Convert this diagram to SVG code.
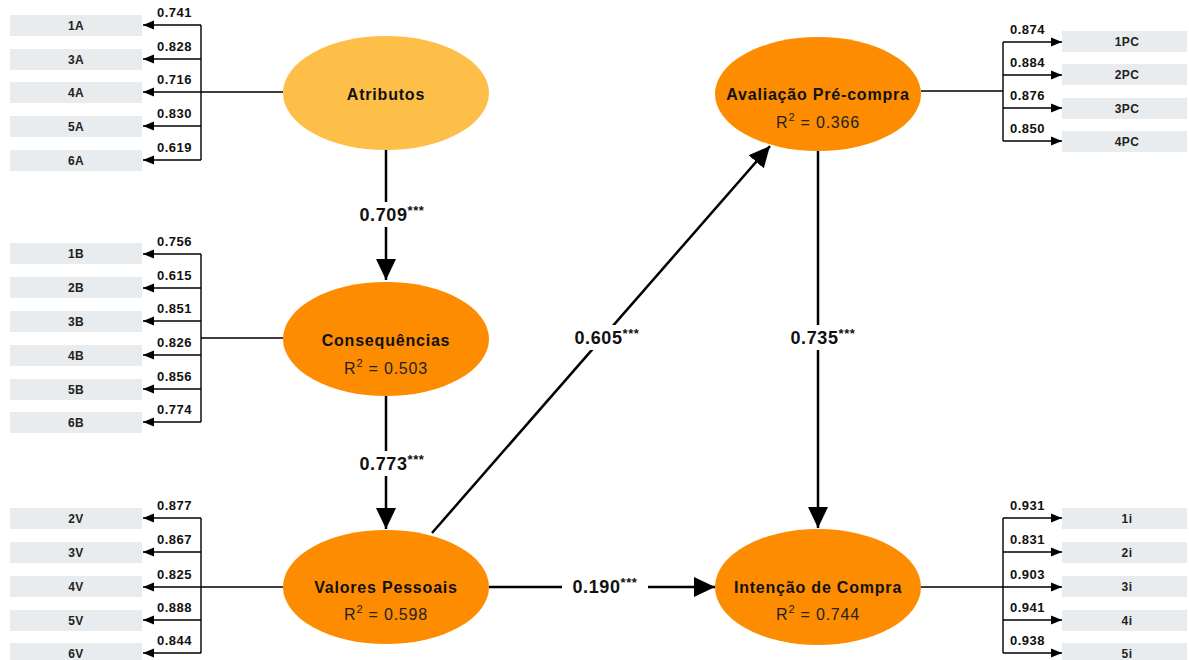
<svg xmlns="http://www.w3.org/2000/svg" width="1189" height="660" viewBox="0 0 1189 660">
<defs>
<marker id="big" markerUnits="userSpaceOnUse" markerWidth="22" markerHeight="22" viewBox="0 0 22 22" refX="21" refY="11" orient="auto"><path d="M0,1 L21,11 L0,21 Z" fill="#000"/></marker>
<marker id="small" markerUnits="userSpaceOnUse" markerWidth="11" markerHeight="10" viewBox="0 0 11 10" refX="11" refY="5" orient="auto"><path d="M0,0.5 L11,5 L0,9.5 Z" fill="#000"/></marker>
</defs>
<style>
.ind{fill:#E9ECEF}
.it{font-family:"Liberation Sans",Arial,sans-serif;font-size:12px;letter-spacing:0.4px;font-weight:bold;fill:#222;text-anchor:middle}
.ld{font-family:"Liberation Sans",Arial,sans-serif;font-size:13px;letter-spacing:0.5px;font-weight:bold;fill:#111}
.il{stroke:#000;stroke-width:1.4;fill:none}
.ia{stroke:#000;stroke-width:1.4;fill:none;marker-end:url(#small)}
.pa{stroke:#000;stroke-width:2.5;fill:none;marker-end:url(#big)}
.pt{font-family:"Liberation Sans",Arial,sans-serif;font-size:18px;letter-spacing:0.6px;font-weight:bold;fill:#111;text-anchor:middle}
.st{font-size:13px}
.lt{font-family:"Liberation Sans",Arial,sans-serif;font-size:16px;letter-spacing:0.8px;font-weight:bold;fill:#111;text-anchor:middle}
.rt{font-family:"Liberation Sans",Arial,sans-serif;font-size:16px;letter-spacing:0.8px;fill:#222;text-anchor:middle}
.o1{fill:#FDBF48}
.o2{fill:#FD8C00}
</style>

<g id="connectors">
  <path class="il" d="M283,92 H201 M201,25 V160"/>
  <line class="ia" x1="201" y1="25" x2="143" y2="25"/>
  <line class="ia" x1="201" y1="59" x2="143" y2="59"/>
  <line class="ia" x1="201" y1="92" x2="143" y2="92"/>
  <line class="ia" x1="201" y1="126" x2="143" y2="126"/>
  <line class="ia" x1="201" y1="160" x2="143" y2="160"/>
  <text class="ld" x="157" y="17">0.741</text>
  <text class="ld" x="157" y="51">0.828</text>
  <text class="ld" x="157" y="84">0.716</text>
  <text class="ld" x="157" y="118">0.830</text>
  <text class="ld" x="157" y="152">0.619</text>

  <path class="il" d="M283,338 H201 M201,254 V422"/>
  <line class="ia" x1="201" y1="254" x2="143" y2="254"/>
  <line class="ia" x1="201" y1="288" x2="143" y2="288"/>
  <line class="ia" x1="201" y1="321" x2="143" y2="321"/>
  <line class="ia" x1="201" y1="355" x2="143" y2="355"/>
  <line class="ia" x1="201" y1="389" x2="143" y2="389"/>
  <line class="ia" x1="201" y1="422" x2="143" y2="422"/>
  <text class="ld" x="157" y="246">0.756</text>
  <text class="ld" x="157" y="280">0.615</text>
  <text class="ld" x="157" y="313">0.851</text>
  <text class="ld" x="157" y="347">0.826</text>
  <text class="ld" x="157" y="381">0.856</text>
  <text class="ld" x="157" y="414">0.774</text>

  <path class="il" d="M283,587 H201 M201,518 V653"/>
  <line class="ia" x1="201" y1="518" x2="143" y2="518"/>
  <line class="ia" x1="201" y1="552" x2="143" y2="552"/>
  <line class="ia" x1="201" y1="587" x2="143" y2="587"/>
  <line class="ia" x1="201" y1="620" x2="143" y2="620"/>
  <line class="ia" x1="201" y1="653" x2="143" y2="653"/>
  <text class="ld" x="157" y="510">0.877</text>
  <text class="ld" x="157" y="544">0.867</text>
  <text class="ld" x="157" y="579">0.825</text>
  <text class="ld" x="157" y="612">0.888</text>
  <text class="ld" x="157" y="645">0.844</text>

  <path class="il" d="M921,91 H1003 M1003,42 V141"/>
  <line class="ia" x1="1003" y1="42" x2="1062" y2="42"/>
  <line class="ia" x1="1003" y1="75" x2="1062" y2="75"/>
  <line class="ia" x1="1003" y1="108" x2="1062" y2="108"/>
  <line class="ia" x1="1003" y1="141" x2="1062" y2="141"/>
  <text class="ld" x="1010" y="34">0.874</text>
  <text class="ld" x="1010" y="67">0.884</text>
  <text class="ld" x="1010" y="100">0.876</text>
  <text class="ld" x="1010" y="133">0.850</text>

  <path class="il" d="M921,587 H1003 M1003,518 V653"/>
  <line class="ia" x1="1003" y1="518" x2="1062" y2="518"/>
  <line class="ia" x1="1003" y1="552" x2="1062" y2="552"/>
  <line class="ia" x1="1003" y1="587" x2="1062" y2="587"/>
  <line class="ia" x1="1003" y1="620" x2="1062" y2="620"/>
  <line class="ia" x1="1003" y1="653" x2="1062" y2="653"/>
  <text class="ld" x="1010" y="510">0.931</text>
  <text class="ld" x="1010" y="544">0.831</text>
  <text class="ld" x="1010" y="579">0.903</text>
  <text class="ld" x="1010" y="612">0.941</text>
  <text class="ld" x="1010" y="645">0.938</text>

  <line class="pa" x1="386" y1="150" x2="386" y2="280"/>
  <line class="pa" x1="386" y1="396" x2="386" y2="529"/>
  <line class="pa" x1="432" y1="533" x2="770" y2="146"/>
  <line class="pa" x1="818" y1="151" x2="818" y2="528"/>
  <line class="pa" x1="489" y1="587" x2="715" y2="587"/>

  <rect x="350" y="202" width="84" height="25" fill="#fff"/>
  <text class="pt" x="392" y="221">0.709<tspan class="st" dy="-6">***</tspan></text>
  <rect x="350" y="451" width="84" height="25" fill="#fff"/>
  <text class="pt" x="392" y="470">0.773<tspan class="st" dy="-6">***</tspan></text>
  <rect x="565" y="325" width="84" height="25" fill="#fff"/>
  <text class="pt" x="607" y="344">0.605<tspan class="st" dy="-6">***</tspan></text>
  <rect x="781" y="325" width="84" height="25" fill="#fff"/>
  <text class="pt" x="823" y="344">0.735<tspan class="st" dy="-6">***</tspan></text>
  <rect x="562" y="574" width="86" height="25" fill="#fff"/>
  <text class="pt" x="605" y="593">0.190<tspan class="st" dy="-6">***</tspan></text>
</g>

<g id="ind-1A"><rect class="ind" x="10" y="15" width="132" height="21"/><text class="it" x="76" y="30">1A</text></g>
<g id="ind-3A"><rect class="ind" x="10" y="49" width="132" height="21"/><text class="it" x="76" y="64">3A</text></g>
<g id="ind-4A"><rect class="ind" x="10" y="82" width="132" height="21"/><text class="it" x="76" y="97">4A</text></g>
<g id="ind-5A"><rect class="ind" x="10" y="116" width="132" height="21"/><text class="it" x="76" y="131">5A</text></g>
<g id="ind-6A"><rect class="ind" x="10" y="150" width="132" height="21"/><text class="it" x="76" y="165">6A</text></g>

<g id="ind-1B"><rect class="ind" x="10" y="243" width="132" height="21"/><text class="it" x="76" y="258">1B</text></g>
<g id="ind-2B"><rect class="ind" x="10" y="277" width="132" height="21"/><text class="it" x="76" y="292">2B</text></g>
<g id="ind-3B"><rect class="ind" x="10" y="311" width="132" height="21"/><text class="it" x="76" y="326">3B</text></g>
<g id="ind-4B"><rect class="ind" x="10" y="345" width="132" height="21"/><text class="it" x="76" y="360">4B</text></g>
<g id="ind-5B"><rect class="ind" x="10" y="379" width="132" height="21"/><text class="it" x="76" y="394">5B</text></g>
<g id="ind-6B"><rect class="ind" x="10" y="412" width="132" height="21"/><text class="it" x="76" y="427">6B</text></g>

<g id="ind-2V"><rect class="ind" x="10" y="508" width="132" height="21"/><text class="it" x="76" y="523">2V</text></g>
<g id="ind-3V"><rect class="ind" x="10" y="542" width="132" height="21"/><text class="it" x="76" y="557">3V</text></g>
<g id="ind-4V"><rect class="ind" x="10" y="576" width="132" height="21"/><text class="it" x="76" y="591">4V</text></g>
<g id="ind-5V"><rect class="ind" x="10" y="610" width="132" height="21"/><text class="it" x="76" y="625">5V</text></g>
<g id="ind-6V"><rect class="ind" x="10" y="643" width="132" height="21"/><text class="it" x="76" y="658">6V</text></g>

<g id="ind-1PC"><rect class="ind" x="1062" y="31" width="125" height="21"/><text class="it" x="1127" y="46">1PC</text></g>
<g id="ind-2PC"><rect class="ind" x="1062" y="64" width="125" height="21"/><text class="it" x="1127" y="79">2PC</text></g>
<g id="ind-3PC"><rect class="ind" x="1062" y="98" width="125" height="21"/><text class="it" x="1127" y="113">3PC</text></g>
<g id="ind-4PC"><rect class="ind" x="1062" y="131" width="125" height="21"/><text class="it" x="1127" y="146">4PC</text></g>

<g id="ind-1i"><rect class="ind" x="1062" y="508" width="125" height="21"/><text class="it" x="1127" y="523">1i</text></g>
<g id="ind-2i"><rect class="ind" x="1062" y="542" width="125" height="21"/><text class="it" x="1127" y="557">2i</text></g>
<g id="ind-3i"><rect class="ind" x="1062" y="576" width="125" height="21"/><text class="it" x="1127" y="591">3i</text></g>
<g id="ind-4i"><rect class="ind" x="1062" y="610" width="125" height="21"/><text class="it" x="1127" y="625">4i</text></g>
<g id="ind-5i"><rect class="ind" x="1062" y="643" width="125" height="21"/><text class="it" x="1127" y="658">5i</text></g>

<g id="atributos"><ellipse class="o1" cx="386" cy="93" rx="103" ry="57"/><text class="lt" x="386" y="100">Atributos</text></g>
<g id="consequencias"><ellipse class="o2" cx="386" cy="339" rx="103" ry="57"/><text class="lt" x="386" y="346">Consequências</text><text class="rt" x="386" y="374">R<tspan font-size="11" dy="-7">2</tspan><tspan dy="7"> = 0.503</tspan></text></g>
<g id="valores"><ellipse class="o2" cx="386" cy="587" rx="103" ry="57"/><text class="lt" x="386" y="593">Valores Pessoais</text><text class="rt" x="386" y="620">R<tspan font-size="11" dy="-7">2</tspan><tspan dy="7"> = 0.598</tspan></text></g>
<g id="avaliacao"><ellipse class="o2" cx="818" cy="94" rx="103" ry="57"/><text class="lt" x="818" y="100">Avaliação Pré-compra</text><text class="rt" x="818" y="128">R<tspan font-size="11" dy="-7">2</tspan><tspan dy="7"> = 0.366</tspan></text></g>
<g id="intencao"><ellipse class="o2" cx="818" cy="587" rx="103" ry="58"/><text class="lt" x="818" y="593">Intenção de Compra</text><text class="rt" x="818" y="620">R<tspan font-size="11" dy="-7">2</tspan><tspan dy="7"> = 0.744</tspan></text></g>
</svg>
